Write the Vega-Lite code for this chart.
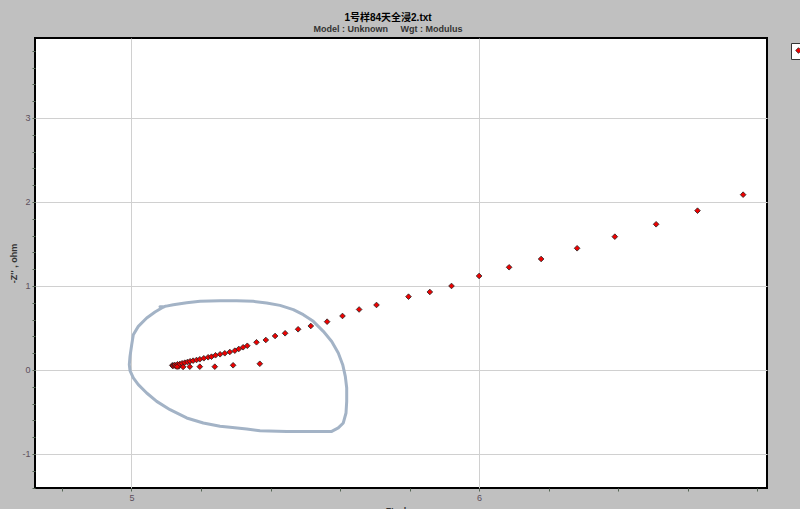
{
  "$schema": "https://vega.github.io/schema/vega-lite/v6.json",
  "width": 732,
  "height": 450,
  "autosize": {"type": "none"},
  "padding": {"left": 35, "top": 38, "right": 33, "bottom": 21},
  "background": "#c0c0c0",
  "title": {
    "text": "1号样84天全浸2.txt",
    "subtitle": "Model : Unknown\u00a0\u00a0\u00a0\u00a0 Wgt : Modulus",
    "anchor": "middle",
    "dx": -13,
    "offset": 4,
    "font": "Liberation Sans, Noto Sans CJK SC",
    "fontSize": 10,
    "fontWeight": "bold",
    "color": "#000000",
    "subtitleFont": "Liberation Sans",
    "subtitleFontSize": 9,
    "subtitleFontWeight": "bold",
    "subtitleColor": "#333333",
    "subtitlePadding": 2
  },
  "config": {
    "view": {"fill": "white", "stroke": "black", "strokeWidth": 2},
    "axis": {
      "domain": false,
      "gridColor": "#d0d0d0",
      "gridWidth": 1,
      "tickColor": "#556655",
      "tickSize": 3,
      "labelFont": "Liberation Sans",
      "labelFontSize": 9,
      "labelColor": "#5c4f5c",
      "labelOverlap": false,
      "titleFont": "Liberation Sans",
      "titleFontSize": 9,
      "titleFontWeight": "bold",
      "titleColor": "#333333"
    }
  },
  "datasets": {
    "points": [
      {"zre": 5.1174, "zim": 0.0560},
      {"zre": 5.1188, "zim": 0.0476},
      {"zre": 5.1217, "zim": 0.0536},
      {"zre": 5.1246, "zim": 0.0595},
      {"zre": 5.1274, "zim": 0.0440},
      {"zre": 5.1323, "zim": 0.0679},
      {"zre": 5.1361, "zim": 0.0417},
      {"zre": 5.1390, "zim": 0.0714},
      {"zre": 5.1456, "zim": 0.0798},
      {"zre": 5.1533, "zim": 0.0869},
      {"zre": 5.1611, "zim": 0.0952},
      {"zre": 5.1686, "zim": 0.1036},
      {"zre": 5.1772, "zim": 0.1107},
      {"zre": 5.1870, "zim": 0.1190},
      {"zre": 5.1965, "zim": 0.1274},
      {"zre": 5.2080, "zim": 0.1393},
      {"zre": 5.2204, "zim": 0.1512},
      {"zre": 5.2301, "zim": 0.1583},
      {"zre": 5.2417, "zim": 0.1750},
      {"zre": 5.2549, "zim": 0.1869},
      {"zre": 5.2684, "zim": 0.1988},
      {"zre": 5.2828, "zim": 0.2143},
      {"zre": 5.2972, "zim": 0.2298},
      {"zre": 5.3087, "zim": 0.2500},
      {"zre": 5.3211, "zim": 0.2702},
      {"zre": 5.3331, "zim": 0.2881},
      {"zre": 5.3596, "zim": 0.3298},
      {"zre": 5.3864, "zim": 0.3571},
      {"zre": 5.4131, "zim": 0.4048},
      {"zre": 5.4419, "zim": 0.4369},
      {"zre": 5.4793, "zim": 0.4845},
      {"zre": 5.5158, "zim": 0.5238},
      {"zre": 5.5627, "zim": 0.5750},
      {"zre": 5.6070, "zim": 0.6429},
      {"zre": 5.6548, "zim": 0.7202},
      {"zre": 5.7048, "zim": 0.7738},
      {"zre": 5.7969, "zim": 0.8726},
      {"zre": 5.8582, "zim": 0.9286},
      {"zre": 5.9206, "zim": 1.0000},
      {"zre": 6.0000, "zim": 1.1190},
      {"zre": 6.0863, "zim": 1.2226},
      {"zre": 6.1784, "zim": 1.3214},
      {"zre": 6.2819, "zim": 1.4488},
      {"zre": 6.3904, "zim": 1.5869},
      {"zre": 6.5092, "zim": 1.7345},
      {"zre": 6.6283, "zim": 1.8964},
      {"zre": 6.7595, "zim": 2.0869},
      {"zre": 5.1312, "zim": 0.0393},
      {"zre": 5.1484, "zim": 0.0357},
      {"zre": 5.1677, "zim": 0.0393},
      {"zre": 5.1965, "zim": 0.0393},
      {"zre": 5.2396, "zim": 0.0393},
      {"zre": 5.2923, "zim": 0.0560},
      {"zre": 5.3691, "zim": 0.0738}
    ],
    "loop": [
      {"i": 0, "zre": 5.0820, "zim": 0.754},
      {"i": 1, "zre": 5.0964, "zim": 0.757},
      {"i": 2, "zre": 5.1203, "zim": 0.777},
      {"i": 3, "zre": 5.1588, "zim": 0.801},
      {"i": 4, "zre": 5.1971, "zim": 0.817},
      {"i": 5, "zre": 5.2546, "zim": 0.825},
      {"i": 6, "zre": 5.3026, "zim": 0.825},
      {"i": 7, "zre": 5.3504, "zim": 0.817},
      {"i": 8, "zre": 5.3889, "zim": 0.798},
      {"i": 9, "zre": 5.4272, "zim": 0.769},
      {"i": 10, "zre": 5.4655, "zim": 0.718},
      {"i": 11, "zre": 5.4942, "zim": 0.658},
      {"i": 12, "zre": 5.5230, "zim": 0.579},
      {"i": 13, "zre": 5.5518, "zim": 0.460},
      {"i": 14, "zre": 5.5760, "zim": 0.340},
      {"i": 15, "zre": 5.5949, "zim": 0.202},
      {"i": 16, "zre": 5.6076, "zim": 0.063},
      {"i": 17, "zre": 5.6151, "zim": -0.076},
      {"i": 18, "zre": 5.6191, "zim": -0.214},
      {"i": 19, "zre": 5.6191, "zim": -0.374},
      {"i": 20, "zre": 5.6171, "zim": -0.512},
      {"i": 21, "zre": 5.6093, "zim": -0.631},
      {"i": 22, "zre": 5.5949, "zim": -0.690},
      {"i": 23, "zre": 5.5760, "zim": -0.731},
      {"i": 24, "zre": 5.5423, "zim": -0.731},
      {"i": 25, "zre": 5.4465, "zim": -0.731},
      {"i": 26, "zre": 5.3697, "zim": -0.723},
      {"i": 27, "zre": 5.3314, "zim": -0.702},
      {"i": 28, "zre": 5.2834, "zim": -0.683},
      {"i": 29, "zre": 5.2546, "zim": -0.671},
      {"i": 30, "zre": 5.2066, "zim": -0.631},
      {"i": 31, "zre": 5.1588, "zim": -0.571},
      {"i": 32, "zre": 5.1108, "zim": -0.473},
      {"i": 33, "zre": 5.0725, "zim": -0.374},
      {"i": 34, "zre": 5.0437, "zim": -0.274},
      {"i": 35, "zre": 5.0196, "zim": -0.175},
      {"i": 36, "zre": 5.0052, "zim": -0.095},
      {"i": 37, "zre": 4.9957, "zim": -0.008},
      {"i": 38, "zre": 4.9937, "zim": 0.063},
      {"i": 39, "zre": 4.9957, "zim": 0.162},
      {"i": 40, "zre": 5.0006, "zim": 0.301},
      {"i": 41, "zre": 5.0052, "zim": 0.420},
      {"i": 42, "zre": 5.0196, "zim": 0.519},
      {"i": 43, "zre": 5.0437, "zim": 0.619},
      {"i": 44, "zre": 5.0676, "zim": 0.690},
      {"i": 45, "zre": 5.0869, "zim": 0.738},
      {"i": 46, "zre": 5.0964, "zim": 0.757}
    ]
  },
  "layer": [
    {
      "data": {"name": "loop"},
      "mark": {"type": "line", "color": "#a3b3c6", "strokeWidth": 3, "strokeCap": "round", "strokeJoin": "round"},
      "encoding": {
        "x": {
          "field": "zre", "type": "quantitative",
          "scale": {"domain": [4.7224, 6.8282], "nice": false, "zero": false},
          "axis": {
            "title": "Z', ohm",
            "values": [4.8, 5, 5.2, 5.4, 5.6, 5.8, 6, 6.2, 6.4, 6.6, 6.8],
            "tickCount": 100,
            "labelExpr": "abs(datum.value - round(datum.value)) < 0.001 ? '' + round(datum.value) : ''",
            "gridOpacity": {"condition": {"test": "abs(datum.value - round(datum.value)) < 0.001", "value": 1}, "value": 0},
            "labelPadding": 2,
            "titlePadding": 4
          }
        },
        "y": {
          "field": "zim", "type": "quantitative",
          "scale": {"domain": [-1.405, 3.952], "nice": false, "zero": false},
          "axis": {
            "title": "-Z'' , ohm",
            "values": [-1.4, -1.2, -1, -0.8, -0.6, -0.4, -0.2, 0, 0.2, 0.4, 0.6, 0.8, 1, 1.2, 1.4, 1.6, 1.8, 2, 2.2, 2.4, 2.6, 2.8, 3, 3.2, 3.4, 3.6, 3.8],
            "tickCount": 100,
            "labelExpr": "abs(datum.value - round(datum.value)) < 0.001 ? '' + round(datum.value) : ''",
            "gridOpacity": {"condition": {"test": "abs(datum.value - round(datum.value)) < 0.001", "value": 1}, "value": 0},
            "labelPadding": 2,
            "titlePadding": 3
          }
        },
        "order": {"field": "i", "type": "quantitative"}
      }
    },
    {
      "data": {"name": "points"},
      "mark": {"type": "point", "shape": "diamond", "filled": true, "size": 32, "stroke": "#222222", "strokeWidth": 0.8, "opacity": 1},
      "encoding": {
        "x": {"field": "zre", "type": "quantitative"},
        "y": {"field": "zim", "type": "quantitative"},
        "color": {
          "datum": "1号样84天全浸2.txt",
          "scale": {"range": ["#ee0000"]},
          "legend": {
            "title": null,
            "orient": "none",
            "legendX": 756,
            "legendY": 5,
            "fillColor": "white",
            "strokeColor": "#333333",
            "padding": 3,
            "symbolType": "diamond",
            "symbolSize": 32,
            "symbolStrokeColor": "#222222",
            "symbolStrokeWidth": 0.8,
            "labelFontSize": 9
          }
        }
      }
    }
  ]
}
